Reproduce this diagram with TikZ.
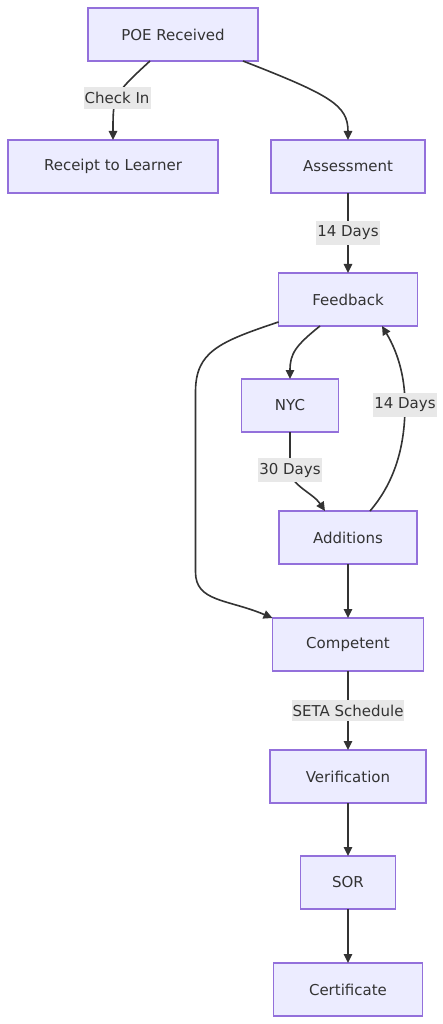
\documentclass[tikz,border=0pt]{standalone}
\usepackage{fontspec}
\setmainfont{DejaVu Sans}
\usepackage{tikz}
\usetikzlibrary{positioning,arrows.meta}
\definecolor{boxfill}{HTML}{ECECFF}
\definecolor{boxline}{HTML}{9370DB}
\definecolor{ink}{HTML}{333333}
\definecolor{lblfill}{HTML}{E8E8E8}
\tikzset{
    box/.style={rectangle,draw=boxline,fill=boxfill,line width=1.3pt,outer sep=0pt,minimum height=53pt,text=ink,font=\fontsize{15}{18}\selectfont},
    lbl/.style={fill=lblfill,text=ink,inner xsep=1pt,inner ysep=5pt,font=\fontsize{15}{18}\selectfont},
    arr/.style={draw=ink,line width=1.6pt,-{Triangle[length=9pt,width=8.5pt]}}
}
\begin{document}
\begin{tikzpicture}
                \node[box,minimum width=170pt] (poe) {POE Received};
                \node[box,minimum width=210pt] (receipt)[below=79pt of poe,xshift=-60pt] {Receipt to Learner};
                \node[box,minimum width=154pt] (assess)[below=79pt of poe,xshift=175pt] {Assessment};
                \node[box,minimum width=139pt] (feedback)[below=80pt of assess] {Feedback};
                \node[box,minimum width=97pt] (nyc)[below=53pt of feedback,xshift=-58pt] {NYC};
                \node[box,minimum width=138pt] (add)[below=79pt of nyc,xshift=58pt] {Additions};
                \node[box,minimum width=151pt] (comp)[below=54pt of add] {Competent};
                \node[box,minimum width=156pt] (verif)[below=79pt of comp] {Verification};
                \node[box,minimum width=95pt] (sor)[below=53pt of verif] {SOR};
                \node[box,minimum width=149pt] (cert)[below=54pt of sor] {Certificate};
                \draw[arr] ([xshift=-23pt]poe.south) .. controls +(-37pt,-34pt) and +(0pt,44pt) .. node[lbl,pos=0.52]{Check In} (receipt.north);
                \draw[arr] ([xshift=70pt]poe.south) .. controls +(87pt,-34pt) and +(0pt,35pt) .. (assess.north);
                \draw[arr] (assess) -- node[lbl]{14 Days} (feedback);
                \draw[arr] ([xshift=-28pt]feedback.south) .. controls +(-25pt,-20pt) and +(0pt,25pt) .. (nyc.north);
                \draw[arr] ([yshift=4pt]feedback.south west) .. controls +(-60pt,-20pt) and +(0pt,40pt) .. ++(-83pt,-70pt)
                            -- ++(0pt,-180pt) .. controls +(0pt,-30pt) and +(-45pt,19pt) .. (comp.north west);
                \draw[arr] (nyc.south) -- ++(0pt,-38pt) node[lbl]{30 Days} .. controls +(0pt,-15pt) and +(-12pt,18pt) .. ([xshift=-23pt]add.north);
                \draw[arr] ([xshift=22pt]add.north) .. controls +(30pt,35pt) and +(0pt,-30pt) .. ++(35pt,106pt) node[lbl]{14 Days}
                            .. controls +(0pt,30pt) and +(15pt,-25pt) .. ([xshift=34pt]feedback.south);
                \draw[arr] (add) -- (comp);
                \draw[arr] (comp) -- node[lbl]{SETA Schedule} (verif);
                \draw[arr] (verif) -- (sor);
                \draw[arr] (sor) -- (cert);
                \useasboundingbox ([shift={(-173pt,34.5pt)}]poe.center) rectangle ([shift={(270pt,-989.5pt)}]poe.center);
\end{tikzpicture}
\end{document}
